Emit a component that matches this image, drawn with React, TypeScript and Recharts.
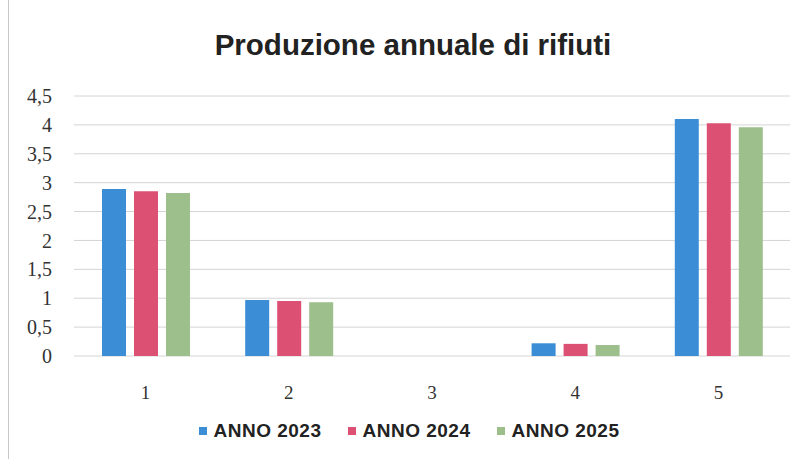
import React from "react";
import {
  BarChart, Bar, XAxis, YAxis, CartesianGrid, Legend,
} from "recharts";

const categories = ["1", "2", "3", "4", "5"];
const anno2023 = [2.89, 0.97, 0, 0.22, 4.1];
const anno2024 = [2.85, 0.95, 0, 0.21, 4.03];
const anno2025 = [2.82, 0.93, 0, 0.19, 3.96];
const yTicks = [0, 0.5, 1, 1.5, 2, 2.5, 3, 3.5, 4, 4.5];

const series = [
  { key: "a2023", name: "ANNO 2023", color: "#3b8ed6" },
  { key: "a2024", name: "ANNO 2024", color: "#dc5074" },
  { key: "a2025", name: "ANNO 2025", color: "#9dbf8c" },
];

const data = categories.map((c, i) => ({
  cat: c,
  a2023: anno2023[i],
  a2024: anno2024[i],
  a2025: anno2025[i],
}));

function fmtComma(v: number) {
  return String(v).replace(".", ",");
}

function LegendBox() {
  return (
    <div
      style={{
        height: 30, display: "flex", justifyContent: "center", alignItems: "center",
        gap: 26, fontFamily: "'Liberation Sans', Arial, sans-serif", fontSize: 19,
        fontWeight: 700, color: "#222", paddingLeft: 14, letterSpacing: 0.5,
      }}
    >
      {series.map((s) => (
        <span key={s.key} style={{ display: "flex", alignItems: "center" }}>
          <span style={{ width: 8, height: 8, background: s.color, marginRight: 7, display: "inline-block" }} />
          {s.name}
        </span>
      ))}
    </div>
  );
}

export default function App() {
  return (
    <div style={{ position: "absolute", left: 0, top: 0, width: 807, height: 459, background: "#fff" }}>
      <div style={{ position: "absolute", left: 8, top: 0, width: 1, height: 459, background: "#c8c8c8" }} />
      <div
        style={{
          position: "absolute", left: 0, top: 28, width: 826, textAlign: "center",
          fontFamily: "'Liberation Sans', Arial, sans-serif", fontWeight: 700, fontSize: 29.5,
          color: "#222", lineHeight: "34px",
        }}
      >
        Produzione annuale di rifiuti
      </div>
      <BarChart
        width={807}
        height={459}
        data={data}
        barSize={24}
        barGap={8}
        margin={{ top: 96, right: 17, left: 14, bottom: 13 }}
      >
        <CartesianGrid vertical={false} stroke="#d4d4d4" />
        <XAxis
          dataKey="cat"
          height={60}
          axisLine={false}
          tickLine={false}
          tickMargin={24}
          tick={{ fontSize: 19, fill: "#333", fontFamily: "'Liberation Serif', serif" }}
        />
        <YAxis
          width={60}
          domain={[0, 4.5]}
          ticks={yTicks}
          axisLine={false}
          tickLine={false}
          tickMargin={16}
          tickFormatter={fmtComma}
          tick={{ fontSize: 20, fill: "#333", fontFamily: "'Liberation Serif', serif" }}
        />
        <Legend verticalAlign="bottom" content={<LegendBox />} />
        {series.map((s) => (
          <Bar key={s.key} dataKey={s.key} name={s.name} fill={s.color} isAnimationActive={false} />
        ))}
      </BarChart>
    </div>
  );
}
